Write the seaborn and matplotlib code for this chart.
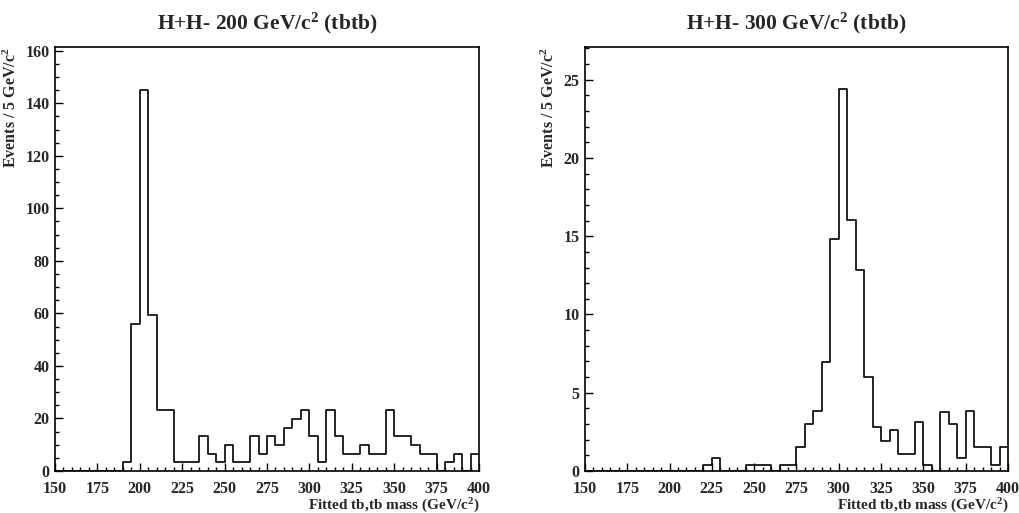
import numpy as np
import pandas as pd
import matplotlib
matplotlib.use("Agg")
import matplotlib.pyplot as plt
import seaborn as sns
from matplotlib.ticker import MultipleLocator

# Bin edges: 5 GeV bins from 150 to 400
bin_edges = np.arange(150, 405, 5)
bin_centers = bin_edges[:-1] + 2.5

# Left panel: H+H- 200 GeV/c2 (events per bin)
counts_200 = [0, 0, 0, 0, 0, 0, 0, 0, 3.3, 56.1,
              145.2, 59.4, 23.1, 23.1, 3.3, 3.3, 3.3, 13.2, 6.6, 3.3,
              9.9, 3.3, 3.3, 13.2, 6.6, 13.2, 9.9, 16.5, 19.8, 23.1,
              13.2, 3.3, 23.1, 13.2, 6.6, 6.6, 9.9, 6.6, 6.6, 23.1,
              13.2, 13.2, 9.9, 6.6, 6.6, 0, 3.3, 6.6, 0, 6.6]

# Right panel: H+H- 300 GeV/c2 (events per bin)
counts_300 = [0, 0, 0, 0, 0, 0, 0, 0, 0, 0,
              0, 0, 0, 0, 0.41, 0.81, 0, 0, 0, 0.41,
              0.36, 0.41, 0, 0.41, 0.41, 1.56, 3.03, 3.84, 6.94, 14.84,
              24.42, 16.05, 12.83, 5.98, 2.80, 1.92, 2.63, 1.07, 1.11, 3.12,
              0.41, 0, 3.76, 3.03, 0.81, 3.84, 1.56, 1.52, 0.41, 1.56]

titles = ["H+H- 200 GeV/c$^{2}$ (tbtb)", "H+H- 300 GeV/c$^{2}$ (tbtb)"]
ylims = [161.3, 27.07]
y_major = [20, 5]
y_minor = [5, 1]

sns.set_style("white")
plt.rcParams['font.family'] = ['Liberation Serif', 'DejaVu Serif']
plt.rcParams['font.weight'] = 'bold'
plt.rcParams['mathtext.fontset'] = 'custom'
plt.rcParams['mathtext.rm'] = 'Liberation Serif:bold'
plt.rcParams['mathtext.bf'] = 'Liberation Serif:bold'
plt.rcParams['mathtext.it'] = 'Liberation Serif:bold'
plt.rcParams['mathtext.default'] = 'bf'

fig = plt.figure(figsize=(10.2, 5.13), dpi=100)
ax1 = fig.add_axes([0.0539, 0.0819, 0.4157, 0.8259])
ax2 = fig.add_axes([0.5735, 0.0819, 0.4147, 0.8259])

for ax, counts, title, ytop, ymaj, ymin in zip(
        [ax1, ax2], [counts_200, counts_300], titles, ylims, y_major, y_minor):
    df = pd.DataFrame({"mass": bin_centers, "w": counts})
    sns.histplot(data=df, x="mass", weights="w", binwidth=5, binrange=(150, 400),
                 element="step", fill=False, color="black", linewidth=1.2, ax=ax)
    ax.set_xlim(150, 400)
    ax.set_ylim(0, ytop)
    ax.xaxis.set_major_locator(MultipleLocator(25))
    ax.xaxis.set_minor_locator(MultipleLocator(5))
    ax.yaxis.set_major_locator(MultipleLocator(ymaj))
    ax.yaxis.set_minor_locator(MultipleLocator(ymin))
    ax.tick_params(which='both', direction='in', top=False, right=False,
                   left=True, bottom=True, width=1, color='black')
    ax.tick_params(which='major', length=6, labelsize=11.5)
    ax.tick_params(axis='x', which='major', pad=7)
    ax.tick_params(axis='y', which='major', pad=4)
    ax.tick_params(which='minor', length=3)
    for lab in ax.get_xticklabels() + ax.get_yticklabels():
        lab.set_fontweight('bold')
    for s in ax.spines.values():
        s.set_color('black')
        s.set_linewidth(1.2)
    ax.set_xlabel("Fitted tb,tb mass (GeV/c$^{2}$)", fontsize=11, fontweight='bold',
                  loc='right', labelpad=0)
    ax.set_ylabel("Events / 5 GeV/c$^{2}$", fontsize=11.5, fontweight='bold',
                  loc='top', labelpad=4)
    ax.set_title(title, fontsize=15.5, fontweight='bold', pad=13)

fig.savefig("out.png", dpi=100, facecolor='white')
